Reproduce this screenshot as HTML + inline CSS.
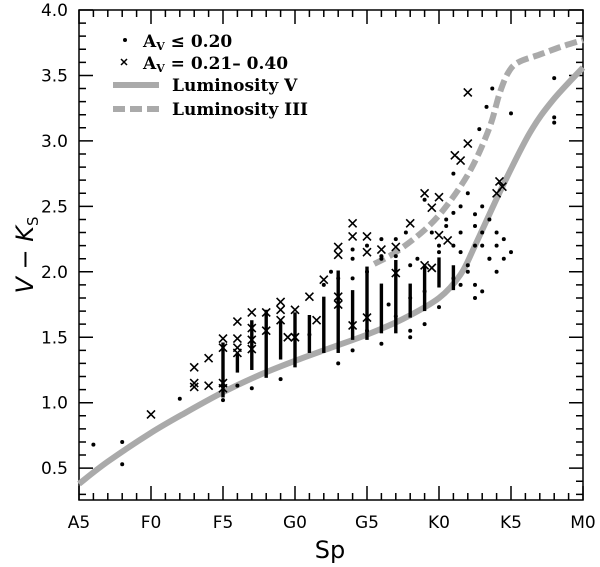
<!DOCTYPE html>
<html><head><meta charset="utf-8"><style>
body{margin:0;background:#fff}
svg{display:block}
text{font-family:"DejaVu Sans","Liberation Sans",sans-serif;fill:#000}
.lg{font-family:"DejaVu Serif","Liberation Serif",serif;font-weight:bold;font-size:17px}
</style></head><body>
<svg id="chart" width="600" height="567" viewBox="0 0 600 567">
<g id="grid"></g>
<g id="curves"></g>
<g id="marks"></g>
<g id="legend">
 <circle cx="125" cy="40" r="2"/>
 <text class="lg" x="143" y="47">A<tspan font-size="11" dy="3">V</tspan><tspan dy="-3"> ≤ 0.20</tspan></text>
 <path d="M121,59 l6,6 M127,59 l-6,6" stroke="#000" stroke-width="1.5"/>
 <text class="lg" x="143" y="69">A<tspan font-size="11" dy="3">V</tspan><tspan dy="-3"> = 0.21– 0.40</tspan></text>
 <line x1="113" y1="85" x2="159" y2="85" stroke="#aaa" stroke-width="6"/>
 <text class="lg" x="172" y="91">Luminosity V</text>
 <line x1="113" y1="109" x2="159" y2="109" stroke="#aaa" stroke-width="6" stroke-dasharray="12,5"/>
 <text class="lg" x="172" y="115">Luminosity III</text>
</g>
<text x="330" y="558" text-anchor="middle" font-size="24">Sp</text>
<text transform="translate(33,255) rotate(-90)" text-anchor="middle" font-size="24"><tspan font-style="italic">V</tspan> − <tspan font-style="italic">K</tspan><tspan font-size="15" dy="5">S</tspan></text>
</svg>
<script>
const xTickLabels=["A5","F0","F5","G0","G5","K0","K5","M0"];
const yTickLabels=["0.5","1.0","1.5","2.0","2.5","3.0","3.5","4.0"];
const lumVX=[0,2,5,7.5,10,12.5,15,17.5,20,22.5,25,26.5,27.5,29.4,31.3,32.9,35];
const lumVY=[0.38,0.55,0.77,0.93,1.08,1.21,1.32,1.42,1.52,1.64,1.8,1.98,2.2,2.65,3.06,3.31,3.56];
const lumIIIX=[20.5,22,24,25.5,27.2,28.5,29.2,29.8,30.5,32,33.5,35];
const lumIIIY=[2.06,2.15,2.32,2.5,2.78,3.1,3.36,3.52,3.6,3.66,3.72,3.77];
const runX=[10,11,12,13,14,15,16,17,18,19,20,21,22,23,24,25,26];
const runLo=[1.04,1.23,1.25,1.19,1.33,1.27,1.38,1.38,1.38,1.48,1.48,1.53,1.53,1.65,1.70,1.88,1.86];
const runHi=[1.46,1.38,1.63,1.71,1.63,1.69,1.67,1.81,2.01,1.86,2.04,1.91,2.09,1.91,2.05,2.11,2.05];
const dotX=[1,3,3,7,10,11,12,14,16,21,22.7,23,26,26.5,27,27.5,28,29,29.5,28.5,27.5,26.5,26,25.5,25,24,23.5,22,21.5,20,19,17.5,33,33,33,28.7,28.3,30,27.8,27.5,28,24,23,19,20,22,21,
 25.5,26,26.5,27,27.5,28,28.5,29,29.5,30,25,24.5,26,27,28,29,23,22,21,20,19,18,17,18,19,21,23,24,25,26.5,27.5,28.5];
const dotY=[0.68,0.70,0.53,1.03,1.02,1.13,1.11,1.18,1.52,2.12,2.3,1.8,2.75,2.5,2.6,2.44,2.3,2.2,2.1,2.1,2.2,2.3,2.2,2.4,1.73,2.55,2.1,1.66,1.75,1.55,1.95,2.0,3.48,3.18,3.14,3.40,3.26,3.21,3.09,1.9,1.85,1.6,1.55,2.17,2.2,2.12,2.25,
 2.35,2.45,2.15,2.05,2.35,2.5,2.4,2.3,2.25,2.15,2.2,2.3,1.95,2.0,2.2,2.0,2.05,2.25,2.1,2.0,2.1,1.95,1.9,1.3,1.4,1.45,1.5,1.85,2.15,1.9,1.8,2.1,1.95];
const crossX=[5,8,8,8,9,9,10,10,10,10,11,11,11,11,12,12,12,12,13,13,14,14,14,14.5,15,15,16,16.5,17,18,18,18,18,19,19,19,20,20,20,21,22,22,23,24,24.5,25,24,24.5,25,25.6,26.1,26.5,27,27,29.2,29.4,29];
const crossY=[0.91,1.27,1.15,1.12,1.34,1.13,1.49,1.42,1.15,1.11,1.62,1.49,1.42,1.38,1.69,1.57,1.48,1.41,1.69,1.55,1.77,1.71,1.63,1.50,1.71,1.50,1.81,1.63,1.94,2.19,2.13,1.81,1.75,2.37,2.27,1.59,2.27,2.15,1.65,2.17,2.19,1.99,2.37,2.60,2.49,2.57,2.05,2.03,2.28,2.24,2.89,2.85,2.98,3.37,2.69,2.65,2.60];
const NS="http://www.w3.org/2000/svg";
const L=79,R=583,T=10,B=500;
const sx=i=>L+i*(R-L)/35;
const sy=v=>T+(4-v)*130.9;
function mk(tag,parent,attrs){const e=document.createElementNS(NS,tag);for(const k in attrs)e.setAttribute(k,attrs[k]);parent.appendChild(e);return e;}
const grid=document.getElementById('grid');
const frame=mk('rect',grid,{x:L,y:T,width:R-L,height:B-T,fill:'none',stroke:'#000','stroke-width':1.5});


for(let i=0;i<=35;i++){const maj=i%5===0,len=maj?14:7;
 const t1=mk('path',grid,{d:`M${sx(i)},${B} v${-len} M${sx(i)},${T} v${len}`,stroke:'#000','stroke-width':1.5});
 
 
 if(maj){const lb=mk('text',grid,{x:sx(i),y:528,'text-anchor':'middle','font-size':17});lb.textContent=xTickLabels[i/5];
 
 }}
for(let k=3;k<=40;k++){const v=k/10,maj=k%5===0,len=maj?14:7;
 const t2=mk('path',grid,{d:`M${L},${sy(v)} h${len} M${R},${sy(v)} h${-len}`,stroke:'#000','stroke-width':1.5});
 
 
 if(maj){const lb=mk('text',grid,{x:68,y:sy(v)+6,'text-anchor':'end','font-size':17});lb.textContent=yTickLabels[k/5-1];
 
 }}
function smooth(xs,ys){const p=xs.map((x,i)=>[sx(x),sy(ys[i])]);let d=`M${p[0][0]},${p[0][1]}`;
 for(let i=0;i<p.length-1;i++){const p0=p[i-1]||p[i],p1=p[i],p2=p[i+1],p3=p[i+2]||p2;
 d+=` C${p1[0]+(p2[0]-p0[0])/6},${p1[1]+(p2[1]-p0[1])/6} ${p2[0]-(p3[0]-p1[0])/6},${p2[1]-(p3[1]-p1[1])/6} ${p2[0]},${p2[1]}`;}return d;}
const cg=document.getElementById('curves');
const cv=mk('path',cg,{d:smooth(lumVX,lumVY),fill:'none',stroke:'#aaa','stroke-width':6});


const c3=mk('path',cg,{d:smooth(lumIIIX,lumIIIY),fill:'none',stroke:'#aaa','stroke-width':6,'stroke-dasharray':'12,5'});


const mg=document.getElementById('marks');
runX.forEach((x,i)=>{const r=mk('rect',mg,{x:sx(x)-1.7,y:sy(runHi[i]),width:3.4,height:sy(runLo[i])-sy(runHi[i]),fill:'#000'});
 
 });
dotX.forEach((x,i)=>{const c=mk('circle',mg,{cx:sx(x),cy:sy(dotY[i]),r:2,fill:'#000'});
 
 });
crossX.forEach((x,i)=>{const cx=sx(x),cy=sy(crossY[i]);const p=mk('path',mg,{d:`M${cx-4},${cy-4} l8,8 M${cx+4},${cy-4} l-8,8`,stroke:'#000','stroke-width':1.6});
 
 });
</script>
</body></html>
